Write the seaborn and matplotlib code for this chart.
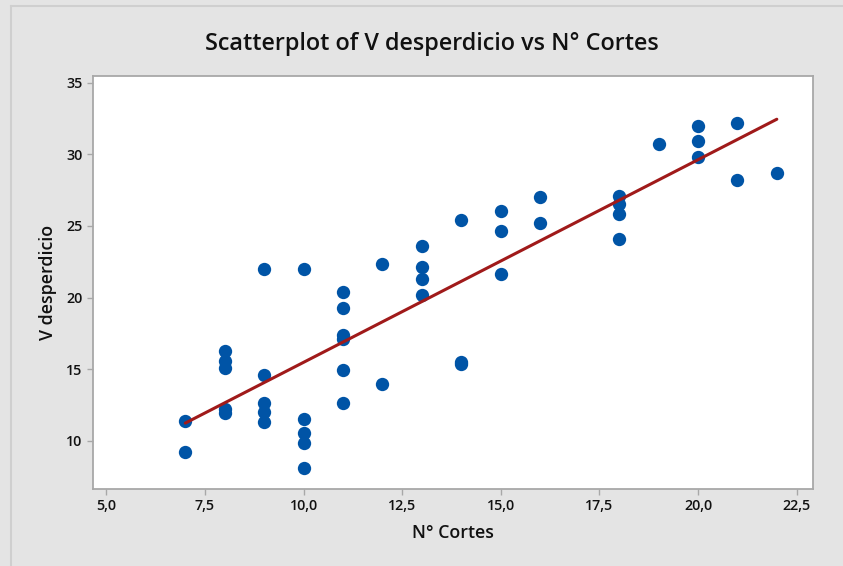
import numpy as np
import pandas as pd
import seaborn as sns
import matplotlib.pyplot as plt
from matplotlib.ticker import FuncFormatter

# Values (N° Cortes vs V desperdicio)
cortes = [7, 7,
          8, 8, 8, 8, 8,
          9, 9, 9, 9, 9,
          10, 10, 10, 10, 10,
          11, 11, 11, 11, 11, 11,
          12, 12,
          13, 13, 13, 13,
          14, 14, 14,
          15, 15, 15,
          16, 16,
          18, 18, 18, 18,
          19,
          20, 20, 20,
          21, 21,
          22]
desperdicio = [11.38, 9.23,
               16.29, 15.56, 15.08, 12.19, 11.91,
               22.0, 14.57, 12.61, 12.0, 11.28,
               22.0, 11.49, 10.56, 9.84, 8.12,
               20.36, 19.25, 17.38, 17.08, 14.96, 12.61,
               22.34, 13.94,
               23.57, 22.13, 21.31, 20.17,
               25.41, 15.52, 15.36,
               26.02, 24.67, 21.62,
               27.04, 25.20,
               27.06, 26.52, 25.81, 24.07,
               30.72,
               31.96, 30.93, 29.79,
               32.16, 28.18,
               28.69]

x_ticks = [5.0, 7.5, 10.0, 12.5, 15.0, 17.5, 20.0, 22.5]
y_ticks = [10, 15, 20, 25, 30, 35]

df = pd.DataFrame({"N° Cortes": cortes, "V desperdicio": desperdicio})

sns.set_style("white")
plt.rcParams['font.family'] = ['Open Sans', 'DejaVu Sans']

bg = "#e4e4e4"
fig = plt.figure(figsize=(8.43, 5.66), dpi=100, facecolor=bg)
ax = fig.add_axes([93 / 843, 1 - 488.7 / 566, (812.7 - 93) / 843, (488.7 - 76) / 566])

sns.regplot(data=df, x="N° Cortes", y="V desperdicio", ax=ax, ci=None,
            scatter_kws={"s": 92, "color": "#0054a6", "alpha": 1, "linewidths": 0},
            line_kws={"color": "#a01a1a", "linewidth": 2.2})

ax.set_xlim(4.66, 22.91)
ax.set_ylim(6.65, 35.47)
ax.set_xticks(x_ticks)
ax.set_yticks(y_ticks)
ax.xaxis.set_major_formatter(FuncFormatter(lambda v, p: f"{v:.1f}".replace(".", ",")))

for s in ax.spines.values():
    s.set_color("#a8a8a8")
    s.set_linewidth(1.3)
ax.tick_params(axis="both", direction="out", length=4, width=1, color="#a8a8a8",
               labelsize=10.3, labelcolor="#111111", bottom=True, left=True)
for lab in ax.get_xticklabels() + ax.get_yticklabels():
    lab.set_fontweight("semibold")

ax.set_xlabel("N° Cortes", fontsize=12.8, fontweight="semibold", color="#111111", labelpad=8)
ax.set_ylabel("V desperdicio", fontsize=12.8, fontweight="semibold", color="#111111", labelpad=7)
fig.text(0.512, 1 - 44 / 566, "Scatterplot of V desperdicio vs N° Cortes", ha="center", va="center",
         fontsize=16.8, fontweight="semibold", color="#111111")

# thin outer frame lines (top and left), like the reference window
fig.add_artist(plt.Line2D([11 / 843, 1], [1 - 6 / 566, 1 - 6 / 566], color="#cfcfcf", linewidth=1.5))
fig.add_artist(plt.Line2D([11 / 843, 11 / 843], [0, 1 - 6 / 566], color="#cfcfcf", linewidth=1.5))

fig.savefig("out.png", dpi=100, facecolor=bg)
